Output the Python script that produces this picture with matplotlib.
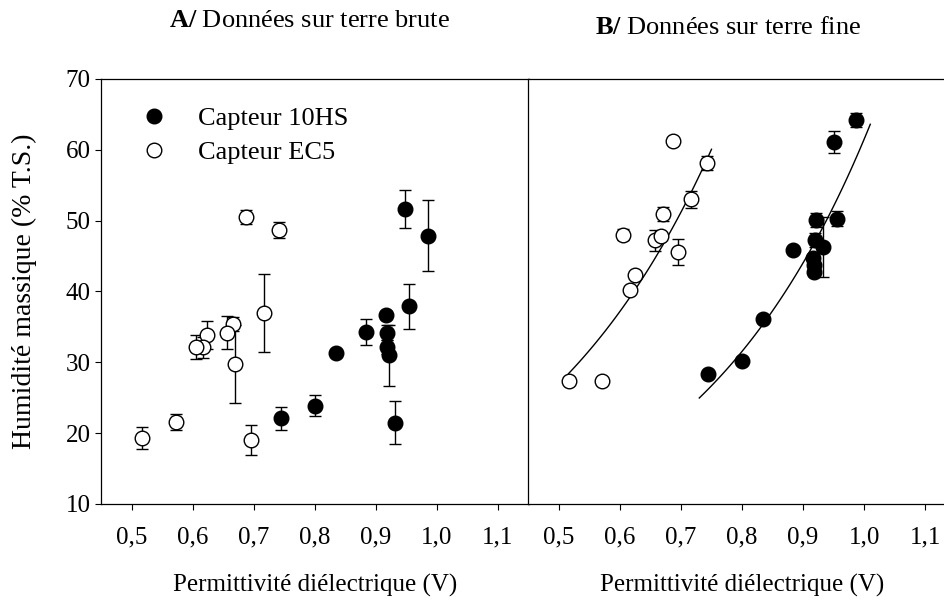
import numpy as np
import matplotlib
matplotlib.use('Agg')
import matplotlib.pyplot as plt

plt.rcParams['font.family'] = ['Liberation Serif', 'DejaVu Serif']
plt.rcParams['mathtext.fontset'] = 'custom'
plt.rcParams['mathtext.rm'] = 'Liberation Serif'
plt.rcParams['mathtext.bf'] = 'Liberation Serif:bold'

# ---- A/ terre brute ----
brute_10hs_x = [0.744, 0.801, 0.834, 0.884, 0.917, 0.919, 0.918, 0.921, 0.931, 0.948, 0.986, 0.955]
brute_10hs_y = [22.1, 23.9, 31.3, 34.3, 36.7, 34.2, 32.2, 31.0, 21.5, 51.6, 47.9, 37.9]
brute_10hs_err = [1.6, 1.5, 0.5, 1.8, 0.6, 1.0, 1.0, 4.3, 3.1, 2.7, 5.0, 3.2]

brute_ec5_x = [0.517, 0.572, 0.695, 0.687, 0.741, 0.717, 0.670, 0.666, 0.657, 0.624, 0.617, 0.605]
brute_ec5_y = [19.3, 21.6, 19.0, 50.5, 48.7, 36.9, 29.8, 35.4, 34.2, 33.9, 32.1, 32.1]
brute_ec5_err = [1.5, 1.1, 2.1, 1.0, 1.1, 5.5, 5.5, 1.0, 2.3, 2.0, 1.5, 1.7]

# ---- B/ terre fine ----
fine_10hs_x = [0.744, 0.800, 0.834, 0.884, 0.921, 0.920, 0.933, 0.917, 0.918, 0.918, 0.956, 0.950, 0.986]
fine_10hs_y = [28.4, 30.2, 36.1, 45.8, 50.1, 47.3, 46.3, 44.7, 43.7, 42.7, 50.3, 61.1, 64.2]
fine_10hs_err = [0.4, 0.3, 0.4, 0.3, 1.0, 1.0, 4.2, 0.5, 0.5, 0.5, 1.0, 1.6, 1.0]

fine_ec5_x = [0.516, 0.571, 0.617, 0.624, 0.605, 0.658, 0.667, 0.671, 0.687, 0.695, 0.717, 0.742]
fine_ec5_y = [27.4, 27.4, 40.2, 42.3, 48.0, 47.2, 47.8, 50.9, 61.2, 45.6, 53.0, 58.1]
fine_ec5_err = [0.3, 0.3, 0.4, 0.4, 0.8, 1.5, 0.5, 1.0, 0.3, 1.8, 1.2, 1.0]

# regression lines y = a*exp(b*x), coefficients and x range
fit_ec5_coef = (5.45, 3.20)
fit_ec5_range = (0.516, 0.750)
fit_10hs_coef = (2.18, 3.34)
fit_10hs_range = (0.730, 1.010)

xticks = [0.5, 0.6, 0.7, 0.8, 0.9, 1.0, 1.1]
xtick_labels = ['0,5', '0,6', '0,7', '0,8', '0,9', '1,0', '1,1']
yticks = [10, 20, 30, 40, 50, 60, 70]

FS = 18


def points(ax, x, y, err, filled, label=None):
    ax.errorbar(x, y, yerr=err, fmt='none', ecolor='black', elinewidth=1.0,
                capsize=4.6, capthick=1.0, zorder=2)
    ax.plot(x, y, 'o', ms=10.5, mew=1.0, mec='black',
            mfc='black' if filled else 'white', zorder=3, label=label)


def fit_line(ax, coef, rng):
    xs = np.linspace(rng[0], rng[1], 100)
    ax.plot(xs, coef[0] * np.exp(coef[1] * xs), color='black', lw=1.0, zorder=1)


def style(ax):
    ax.set_xlim(0.45, 1.15)
    ax.set_ylim(10, 70)
    ax.set_xticks(xticks)
    ax.set_xticklabels(xtick_labels, fontsize=FS)
    ax.tick_params(axis='x', direction='out', length=4.5, width=0.8, pad=12)
    for s in ax.spines.values():
        s.set_linewidth(0.9)
    ax.set_xlabel('Permittivité diélectrique (V)', fontsize=FS, labelpad=18)


fig = plt.figure(figsize=(9.44, 6.03), dpi=100)
ax1 = fig.add_axes([0.1070, 0.1642, 0.4529, 0.7048])
ax2 = fig.add_axes([0.5596, 0.1642, 0.4529, 0.7048])

# A/
points(ax1, brute_10hs_x, brute_10hs_y, brute_10hs_err, True, 'Capteur 10HS')
points(ax1, brute_ec5_x, brute_ec5_y, brute_ec5_err, False, 'Capteur EC5')
style(ax1)
ax1.set_yticks(yticks)
ax1.set_yticklabels([str(v) for v in yticks], fontsize=FS)
ax1.tick_params(axis='y', direction='out', length=4.5, width=0.8, pad=3)
ax1.set_ylabel('Humidité massique (% T.S.)', fontsize=20)
ax1.yaxis.set_label_coords(-0.150, 0.5)
ax1.legend(loc='upper left', bbox_to_anchor=(0.093, 0.935), frameon=False,
           fontsize=19, handlelength=1.0, handletextpad=1.17, labelspacing=0.41,
           borderpad=0, borderaxespad=0, numpoints=1)

# B/
fit_line(ax2, fit_ec5_coef, fit_ec5_range)
fit_line(ax2, fit_10hs_coef, fit_10hs_range)
points(ax2, fine_10hs_x, fine_10hs_y, fine_10hs_err, True)
points(ax2, fine_ec5_x, fine_ec5_y, fine_ec5_err, False)
style(ax2)
ax2.set_yticks([])

fig.text(309 / 944, 1 - 21 / 603, r'$\mathbf{A/}$ Données sur terre brute',
         ha='center', va='center', fontsize=19)
fig.text(728 / 944, 1 - 28 / 603, r'$\mathbf{B/}$ Données sur terre fine',
         ha='center', va='center', fontsize=19)

plt.savefig('out.png', dpi=100)
plt.close()
